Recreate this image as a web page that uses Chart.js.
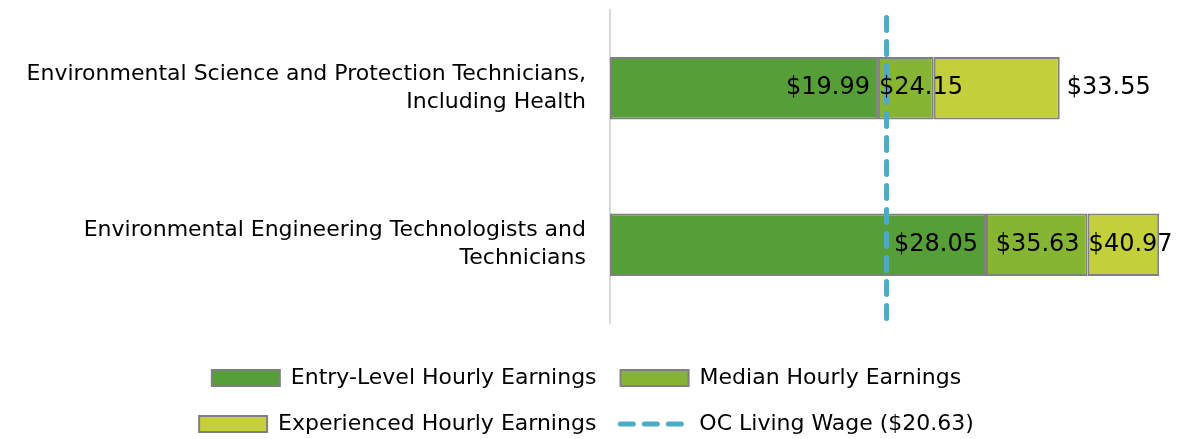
<!DOCTYPE html>
<html>
<head>
<meta charset="utf-8">
<script src="https://cdn.jsdelivr.net/npm/chart.js@4"></script>
<style>
  html, body { margin: 0; padding: 0; background: #ffffff; }
  #wrap { width: 1183px; height: 439px; position: relative; }
</style>
</head>
<body>
<div id="wrap"><canvas id="c" width="1183" height="439"></canvas></div>
<script>
// ---- data ----
const categories = [
  ["Environmental Science and Protection Technicians,", "Including Health"],
  ["Environmental Engineering Technologists and", "Technicians"]
];
const entryLevel = [19.99, 28.05];
const median = [24.15, 35.63];
const experienced = [33.55, 40.97];
const livingWage = 20.63;
const seriesNames = ["Entry-Level Hourly Earnings", "Median Hourly Earnings", "Experienced Hourly Earnings", "OC Living Wage ($20.63)"];

// label anchoring per series per category (presentation)
const labelAnchor = [["end", "end"], ["start", "end"], ["outside", "start"]];

const FONT = "'DejaVu Sans', sans-serif";
const colors = ["#559E38", "#86B533", "#C3CF3B"];
const lineColor = "#4BACC6";

const floating = (lo, hi) => hi.map((v, i) => [lo ? lo[i] : 0, v]);

const barCommon = {
  type: "bar",
  grouped: false,
  borderColor: "#808080",
  borderWidth: 2,
  borderSkipped: false,
  categoryPercentage: 0.8,
  barPercentage: 0.5,
  xAxisID: "x",
  yAxisID: "y"
};

const labelPlugin = {
  id: "barLabels",
  afterDatasetsDraw(chart) {
    const ctx = chart.ctx;
    ctx.save();
    ctx.font = "24px " + FONT;
    ctx.fillStyle = "#000";
    ctx.textBaseline = "middle";
    const vals = [entryLevel, median, experienced];
    for (let d = 0; d < 3; d++) {
      const meta = chart.getDatasetMeta(d);
      meta.data.forEach((el, i) => {
        const txt = "$" + vals[d][i].toFixed(2);
        const start = Math.min(el.x, el.base), end = Math.max(el.x, el.base);
        const a = labelAnchor[d][i];
        if (a === "end") { ctx.textAlign = "right"; ctx.fillText(txt, end - 8, el.y); }
        else if (a === "start") { ctx.textAlign = "left"; ctx.fillText(txt, start + 1, el.y); }
        else { ctx.textAlign = "left"; ctx.fillText(txt, end + 7, el.y); }
      });
    }
    ctx.restore();
  }
};

new Chart(document.getElementById("c"), {
  data: {
    labels: categories,
    datasets: [
      Object.assign({}, barCommon, { label: seriesNames[0], data: floating(null, entryLevel), backgroundColor: colors[0], order: 3 }),
      Object.assign({}, barCommon, { label: seriesNames[1], data: floating(entryLevel, median), backgroundColor: colors[1], order: 2 }),
      Object.assign({}, barCommon, { label: seriesNames[2], data: floating(median, experienced), backgroundColor: colors[2], order: 1 }),
      {
        type: "line",
        label: seriesNames[3],
        data: [{ x: livingWage, y: 0 }, { x: livingWage, y: 1 }],
        xAxisID: "x",
        yAxisID: "y2",
        borderColor: lineColor,
        backgroundColor: lineColor,
        borderWidth: 5,
        borderDash: [13, 11],
        borderCapStyle: "round",
        pointRadius: 0,
        fill: false,
        order: 0
      }
    ]
  },
  options: {
    indexAxis: "y",
    responsive: false,
    animation: false,
    layout: { padding: { top: 10, right: 10, left: 0, bottom: -6 } },
    scales: {
      x: {
        type: "linear",
        min: 0,
        max: 42,
        display: true,
        grid: { display: false, drawTicks: false },
        border: { display: false },
        ticks: { display: false },
        afterFit(s) { s.height = 20; s.paddingLeft = 0; s.paddingRight = 0; }
      },
      y: {
        type: "category",
        position: "left",
        grid: { display: false, drawTicks: false },
        border: { display: true, color: "#D9D9D9", width: 2 },
        ticks: { color: "#000", padding: 24, font: { family: FONT, size: 22, lineHeight: 1.27 } },
        afterFit(s) { s.width = 610; s.paddingTop = 0; s.paddingBottom = 0; }
      },
      y2: {
        type: "linear",
        min: -0.015,
        max: 1.01,
        display: false
      }
    },
    plugins: {
      tooltip: { enabled: false },
      legend: {
        position: "bottom",
        labels: {
          color: "#000",
          font: { family: FONT, size: 22 },
          padding: 24,
          usePointStyle: true,
          pointStyleWidth: 68,
          boxHeight: 16,
          generateLabels(chart) {
            return chart.data.datasets.map((ds, i) => ({
              text: ds.label,
              datasetIndex: i,
              fillStyle: i < 3 ? ds.backgroundColor : lineColor,
              strokeStyle: i < 3 ? "#808080" : lineColor,
              lineWidth: i < 3 ? 2 : 5,
              lineDash: i < 3 ? [] : [13, 11],
              lineCap: i < 3 ? "butt" : "round",
              pointStyle: i < 3 ? "rect" : "line",
              hidden: false,
              fontColor: "#000"
            }));
          }
        }
      }
    }
  },
  plugins: [labelPlugin]
});
</script>
</body>
</html>
